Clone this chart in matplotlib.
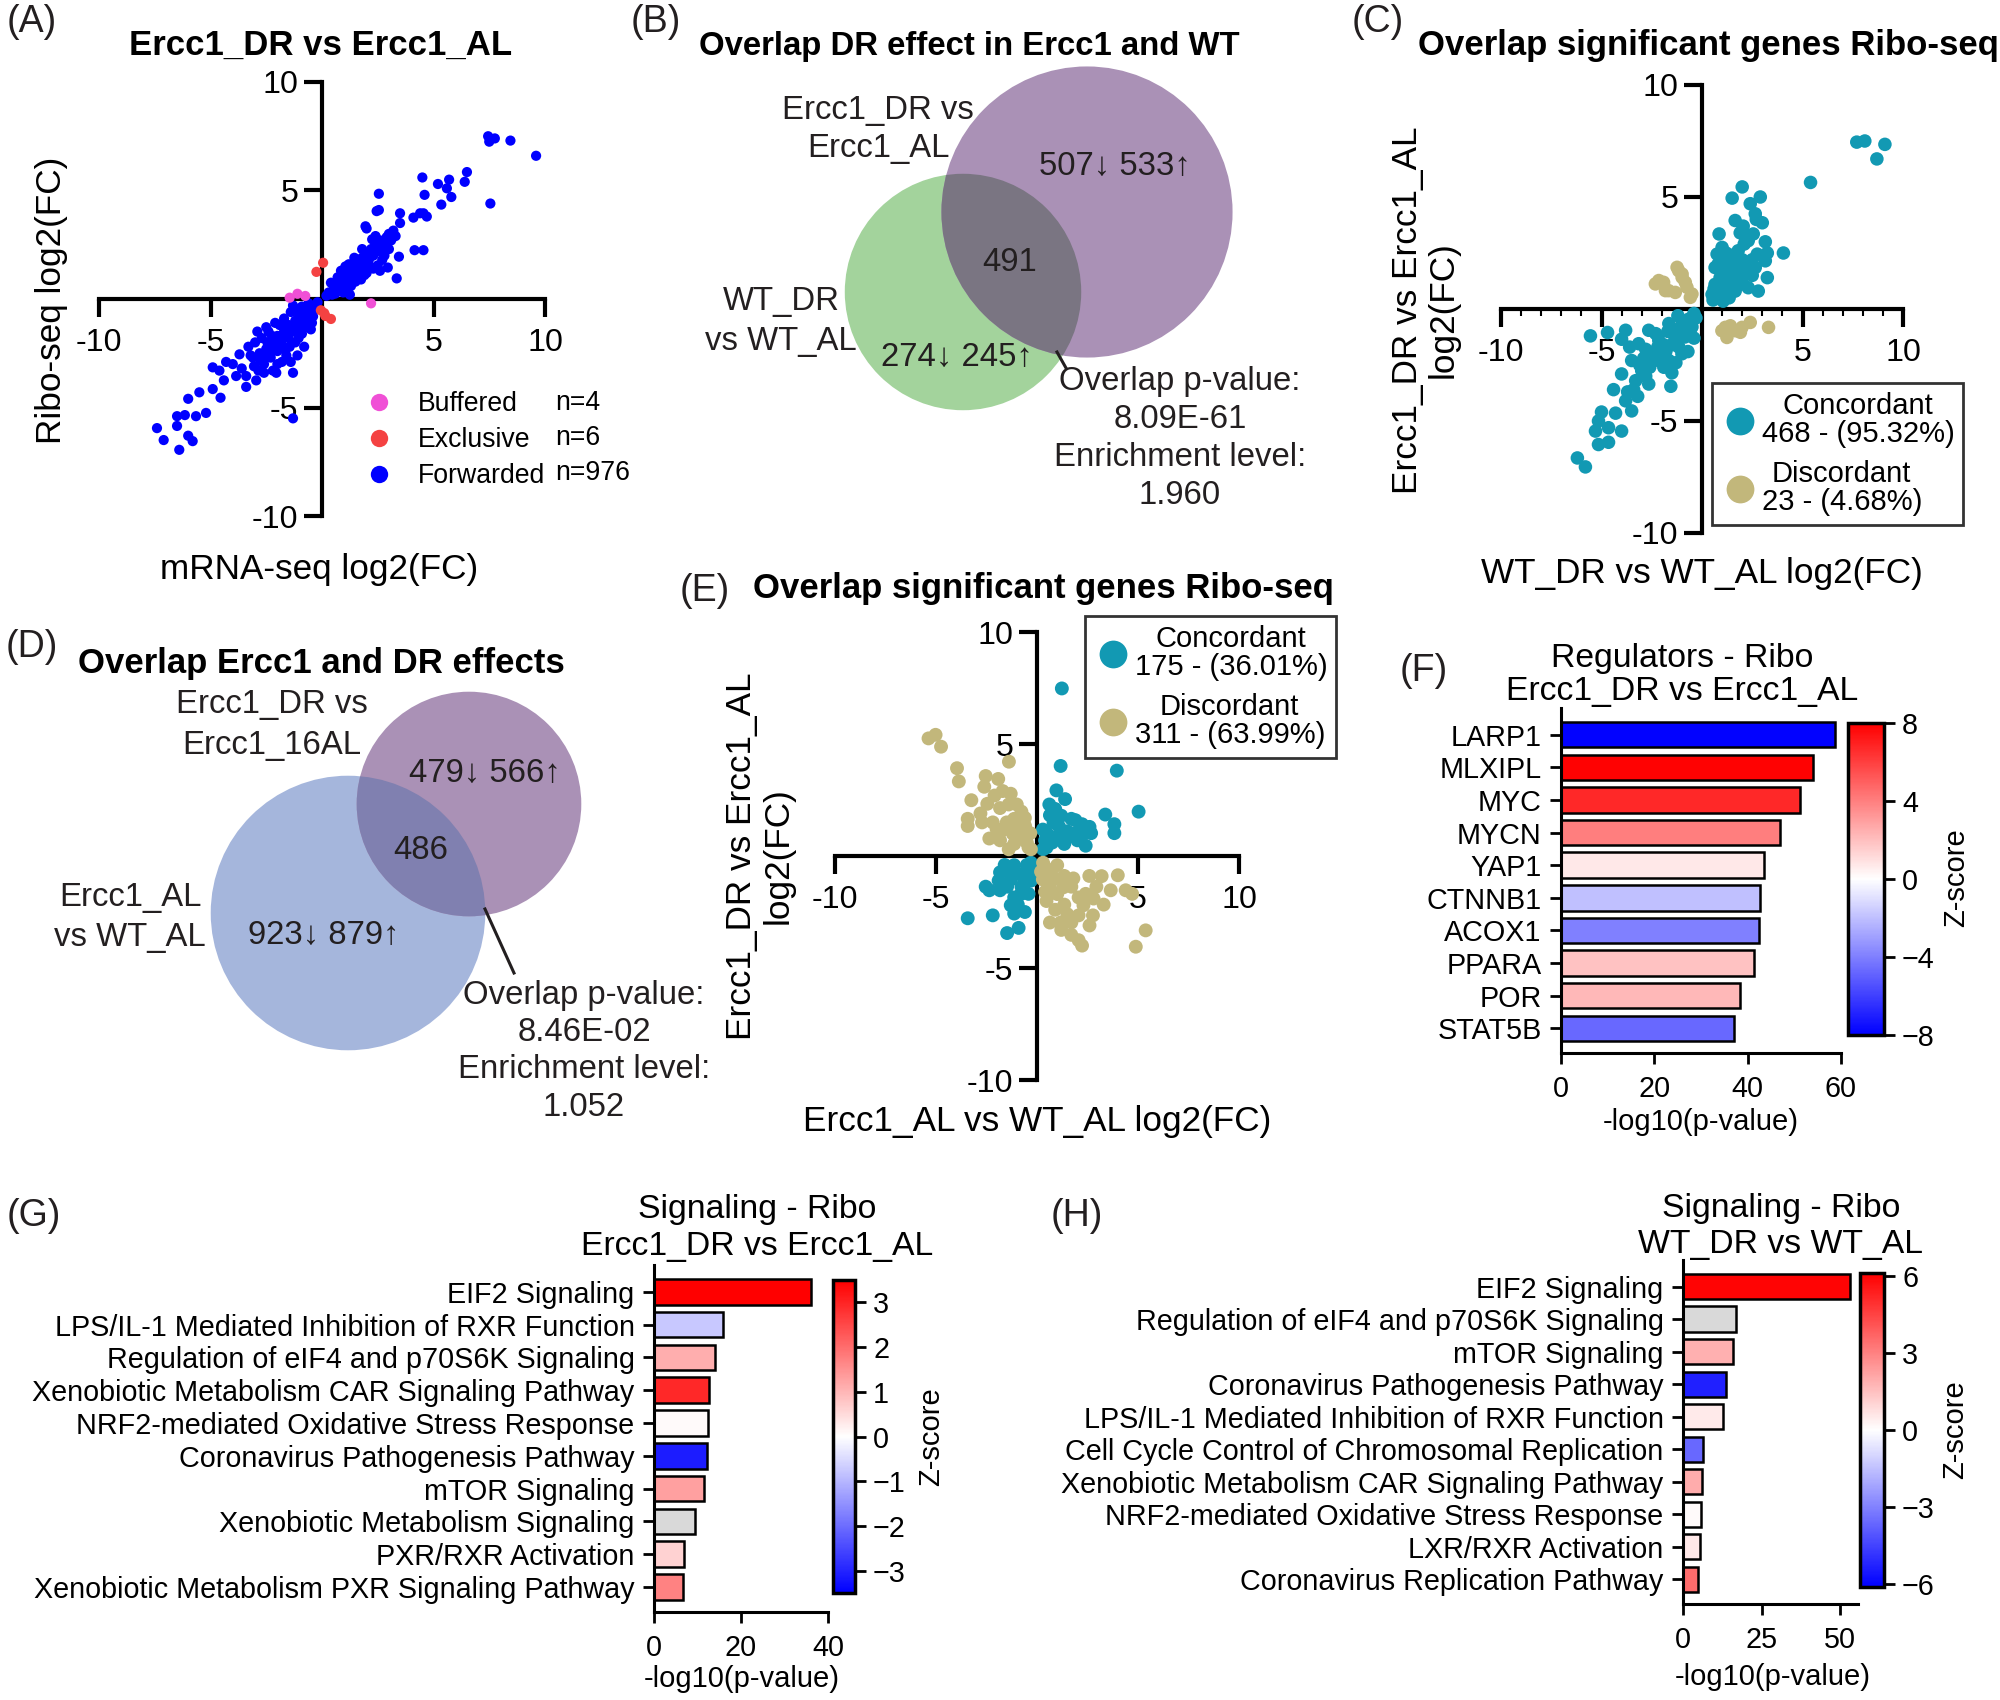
import matplotlib.pyplot as plt
import numpy as np
from matplotlib.lines import Line2D
from matplotlib.patches import Circle
from matplotlib.colors import Normalize
from matplotlib.cm import ScalarMappable
from matplotlib.ticker import MultipleLocator

plt.rcParams['font.family'] = ['Liberation Sans', 'DejaVu Sans']
plt.rcParams['axes.unicode_minus'] = False

# ---------------- data ----------------
# (A) Ribo-seq vs mRNA-seq log2(FC), Ercc1_DR vs Ercc1_AL
a_forwarded = [
    (7.5, 7.25), (7.75, 7.4), (8.45, 7.3), (7.45, 7.5), (9.6, 6.6), (7.55, 4.4),
    (4.5, 5.6), (5.7, 5.5), (5.2, 5.3), (5.6, 5.1), (5.8, 4.7), (5.35, 4.35),
    (6.4, 5.4), (6.5, 5.85), (4.6, 4.8), (2.55, 4.85), (2.45, 4.05), (2.55, 4.1),
    (3.5, 3.95), (4.1, 3.75), (4.7, 3.8), (4.4, 3.95), (4.55, 3.95), (1.95, 3.35),
    (2.0, 3.25), (3.5, 3.5), (4.15, 2.25), (4.55, 2.25), (3.35, 0.95), (3.45, 1.95),
    (2.95, 1.45), (3.2, 3.15), (3.0, 3.0),
    (0.3, 0.3), (0.5, 0.4), (0.6, 0.7), (0.8, 0.55), (0.9, 0.9), (1.0, 1.1),
    (1.1, 0.8), (1.2, 1.3), (1.3, 1.0), (1.4, 1.5), (1.5, 1.2), (1.6, 1.7),
    (1.7, 1.4), (1.8, 1.9), (1.9, 1.6), (2.0, 2.1), (2.1, 1.8), (2.2, 2.3),
    (2.3, 2.0), (2.4, 2.5), (2.5, 2.2), (2.6, 2.7), (2.7, 2.4), (2.8, 2.6),
    (2.9, 2.85), (3.1, 2.7), (1.0, 0.5), (1.5, 0.8), (2.0, 1.2), (2.5, 1.55),
    (0.7, 1.0), (1.2, 1.6), (1.8, 2.3), (2.25, 2.75), (0.4, 0.75), (1.6, 1.0),
    (2.8, 2.0), (2.7, 1.8), (1.3, 0.6), (0.6, 0.25), (2.3, 1.4), (1.9, 1.1),
    (1.45, 1.9), (2.4, 2.9),
    (0.2, 0.15), (0.45, 0.2), (0.7, 0.4), (0.95, 0.3), (1.15, 0.45), (0.55, 0.55),
    (0.85, 1.3), (1.05, 1.5), (1.35, 1.2), (1.55, 1.45), (1.75, 1.65), (1.95, 1.85),
    (2.15, 2.05), (2.35, 2.25), (2.55, 2.45), (2.75, 2.2), (2.15, 1.5), (1.75, 0.9),
    (1.25, 0.2), (2.6, 1.3), (3.0, 2.3), (3.3, 2.9),
    (-7.4, -5.95), (-7.1, -6.5), (-6.4, -6.95), (-6.5, -5.85), (-6.15, -5.35),
    (-6.5, -5.4), (-6.0, -6.3), (-5.8, -6.55), (-5.65, -5.4), (-5.2, -5.25),
    (-6.0, -4.6), (-5.5, -4.3), (-4.9, -4.15), (-4.55, -4.55), (-4.9, -3.15),
    (-4.3, -2.9), (-4.4, -3.75), (-3.85, -3.55), (-3.4, -4.05), (-2.95, -3.75),
    (-3.4, -3.55), (-2.05, -3.4), (-1.3, -3.4), (-1.3, -5.5), (-3.7, -2.55),
    (-3.1, -2.7), (-4.0, -3.0), (-4.6, -3.3), (-3.6, -3.2),
    (-0.3, -0.3), (-0.5, -0.6), (-0.7, -0.45), (-0.8, -0.9), (-1.0, -0.7),
    (-1.0, -1.2), (-1.2, -1.0), (-1.3, -1.5), (-1.5, -1.2), (-1.5, -1.8),
    (-1.7, -1.5), (-1.8, -2.1), (-2.0, -1.7), (-2.0, -2.4), (-2.2, -2.0),
    (-2.3, -2.7), (-2.5, -2.3), (-2.6, -3.0), (-2.8, -2.5), (-1.2, -2.0),
    (-0.9, -1.6), (-0.6, -1.0), (-1.6, -2.6), (-2.0, -3.0), (-0.4, -0.8),
    (-1.1, -0.6), (-1.9, -1.2), (-2.7, -1.8), (-2.9, -1.5), (-3.3, -2.2),
    (-1.4, -2.9), (-0.8, -2.2), (-2.4, -1.5), (-1.7, -0.9), (-0.6, -0.2),
    (-0.9, -0.35), (-1.4, -0.6), (-2.1, -1.1), (-2.5, -1.3), (-3.0, -2.0),
    (-1.1, -2.6), (-1.8, -2.9), (-2.2, -3.3), (-0.5, -1.4), (-1.3, -0.3),
    (-2.6, -3.4),
    (-0.2, -0.15), (-0.35, -0.5), (-0.55, -0.35), (-0.75, -0.7), (-0.95, -0.95),
    (-1.15, -1.35), (-1.35, -1.25), (-1.55, -1.55), (-1.75, -1.8), (-1.95, -2.0),
    (-2.15, -2.3), (-2.35, -2.45), (-2.55, -2.7), (-2.75, -2.85), (-1.05, -1.8),
    (-1.45, -2.2), (-1.65, -2.35), (-2.45, -2.0), (-2.25, -1.7), (-0.75, -1.3),
    (-1.25, -0.45), (-0.45, -1.1), (-3.05, -3.1), (-2.85, -3.3), (-3.2, -2.6),
]
a_buffered = [(-1.45, 0.06), (-1.1, 0.24), (-0.75, 0.14), (2.2, -0.2)]
a_exclusive = [(0.05, 1.67), (-0.25, 1.25), (-0.05, -0.52), (0.15, -0.78),
               (0.4, -0.92), (0.1, -0.65)]
a_counts = ['n=4', 'n=6', 'n=976']

# (C) Ercc1_DR vs Ercc1_AL against WT_DR vs WT_AL
c_concordant = [
    (7.7, 7.45), (8.1, 7.5), (9.1, 7.35), (8.7, 6.7), (5.4, 5.65), (4.05, 2.5),
    (2.0, 5.45), (1.5, 4.95), (2.9, 5.0), (2.4, 4.7), (2.65, 4.25), (1.65, 3.95),
    (3.0, 3.85), (2.05, 3.7), (0.85, 3.35), (2.3, 3.05), (3.15, 3.0), (1.0, 2.75),
    (3.25, 2.5), (0.75, 2.45), (1.65, 2.15), (2.3, 2.0), (3.15, 2.15), (2.65, 1.85),
    (3.25, 1.4), (1.0, 1.55), (0.65, 1.1), (1.4, 1.25), (2.0, 1.4), (2.8, 0.8),
    (0.85, 0.65), (0.5, 0.65), (1.65, 0.8), (2.3, 0.95), (1.15, 2.15), (1.8, 2.6),
    (1.35, 0.5), (0.65, 1.85), (2.55, 3.35), (2.75, 2.45), (1.3, 1.8), (0.9, 1.0),
    (1.9, 1.1), (2.5, 1.5), (1.2, 0.95), (0.55, 0.4), (2.1, 3.3), (2.7, 4.0),
    (0.6, 0.9), (0.9, 1.4), (1.1, 1.7), (1.5, 1.5), (1.7, 1.8), (1.5, 2.4),
    (2.0, 2.2), (2.2, 1.7), (1.7, 1.3), (0.8, 2.0), (1.2, 2.5), (2.1, 2.9),
    (1.9, 3.4), (2.5, 2.2), (0.7, 0.5), (1.05, 0.35),
    (-5.55, -1.2), (-4.7, -1.05), (-3.8, -0.95), (-4.0, -1.35), (-1.0, -0.5),
    (-0.65, -0.45), (-1.65, -0.65), (-2.65, -0.95), (-3.15, -1.55), (-2.15, -1.4),
    (-1.35, -1.25), (-2.5, -2.0), (-3.5, -2.3), (-4.0, -2.9), (-3.0, -2.75),
    (-1.65, -2.3), (-1.5, -2.85), (-1.55, -3.45), (-3.4, -3.6), (-2.65, -3.35),
    (-3.8, -4.1), (-3.5, -4.55), (-4.3, -4.65), (-4.0, -5.45), (-5.15, -5.0),
    (-5.3, -5.45), (-4.65, -5.3), (-5.15, -6.05), (-4.65, -5.95), (-6.2, -6.65),
    (-5.8, -7.05), (-2.0, -2.0), (-0.85, -1.25), (-0.5, -0.8), (-2.3, -1.1),
    (-1.15, -1.7), (-3.3, -3.2), (-2.15, -2.3), (-0.3, -0.4), (-1.9, -1.6),
    (-2.8, -1.8), (-1.2, -0.3), (-0.6, -1.0), (-1.7, -1.0), (-2.6, -2.6),
    (-3.6, -1.7), (-4.4, -3.6), (-5.0, -4.6), (-0.4, -1.3), (-0.7, -1.9),
    (-0.4, -0.2), (-0.8, -0.7), (-1.2, -0.9), (-1.5, -1.6), (-1.8, -1.9),
    (-2.2, -1.7), (-2.4, -2.3), (-1.9, -2.6), (-2.9, -2.2), (-3.1, -2.5),
    (-2.8, -3.0), (-3.7, -3.7), (-3.2, -3.9), (-1.0, -2.0), (-1.3, -2.4),
    (-0.9, -0.9),
]
c_discordant = [
    (-2.15, 1.27), (-2.32, 1.12), (-1.82, 0.82), (-1.33, 0.74), (-1.16, 1.71),
    (-0.99, 1.41), (-0.75, 0.97), (-0.58, 0.52), (-1.24, 1.86), (-1.66, 0.82),
    (-0.83, 1.19), (1.16, -0.82), (1.24, -1.27), (1.66, -0.97), (1.99, -0.82),
    (2.4, -0.6), (3.31, -0.82), (1.91, -1.04), (0.99, -0.97), (-1.91, 1.19),
    (-0.99, 1.56), (-0.5, 0.67), (1.41, -0.75),
]
c_labels = ['Concordant\n468 - (95.32%)', 'Discordant\n23 - (4.68%)']

# (E) Ercc1_DR vs Ercc1_AL against Ercc1_AL vs WT_AL
e_concordant = [
    (1.23, 7.48), (1.17, 4.02), (3.95, 3.81), (5.03, 1.98), (0.96, 2.93),
    (1.39, 2.54), (0.61, 2.3), (3.38, 1.85), (3.83, 1.42), (3.83, 1.02),
    (2.23, 1.42), (2.68, 1.02), (2.41, 0.46), (1.7, 1.66), (0.64, 1.82),
    (0.29, 1.18), (1.0, 0.86), (0.47, 0.38), (1.35, 0.54), (1.88, 1.02),
    (0.82, 1.5), (0.4, 0.7), (1.5, 1.1), (0.9, 2.1), (2.0, 0.7), (0.3, 0.3),
    (0.5, 1.0), (1.2, 1.8), (1.6, 0.9), (2.2, 0.9), (2.6, 1.3), (0.75, 0.6),
    (1.9, 1.6), (1.1, 1.3),
    (-3.43, -2.78), (-2.19, -2.65), (-2.36, -1.53), (-1.48, -3.44), (-0.91, -3.21),
    (-1.13, -2.57), (-1.83, -0.73), (-1.13, -0.41), (-0.59, -0.73), (-0.77, -1.37),
    (-1.48, -1.37), (-0.42, -1.69), (-1.13, -1.85), (-1.83, -1.53), (-0.24, -0.57),
    (-0.95, -2.17), (-2.54, -1.37), (-1.3, -1.05), (-0.3, -0.3), (-0.6, -1.1),
    (-1.6, -0.4), (-0.3, -1.1),
    (-0.5, -0.4), (-1.0, -0.8), (-1.4, -0.7), (-0.8, -1.7), (-1.3, -2.2),
    (-0.6, -2.5), (-1.9, -1.1), (-0.2, -0.9),
]
e_discordant = [
    (-5.37, 5.25), (-5.02, 5.41), (-4.75, 4.88), (-1.39, 4.21), (-3.96, 3.92),
    (-3.87, 3.33), (-3.25, 2.49), (-2.46, 2.33), (-2.54, 3.57), (-1.92, 3.44),
    (-2.61, 3.09), (-1.3, 2.78), (-3.43, 1.66), (-3.43, 1.34), (-2.72, 1.5),
    (-2.19, 1.5), (-0.77, 1.98), (-0.59, 1.34), (-1.13, 1.66), (-1.83, 2.14),
    (-2.36, 0.78), (-1.83, 0.7), (-1.13, 0.54), (-0.42, 0.38), (-0.77, 0.86),
    (-1.66, 1.18), (-0.33, 1.02), (-1.4, 2.3), (-2.1, 2.7), (-0.3, 0.3),
    (-0.9, 1.3), (-1.5, 1.5), (-2.0, 1.2), (-1.2, 1.0), (-0.5, 0.6),
    (-1.0, 2.3), (-1.7, 2.9), (-2.8, 1.9), (-0.6, 1.7), (-1.4, 0.3),
    (4.0, -0.86), (4.39, -1.53), (4.71, -1.69), (5.38, -3.32), (4.89, -4.05),
    (2.23, -4.0), (2.06, -3.76), (1.7, -3.52), (0.64, -2.97), (1.17, -2.97),
    (1.7, -2.97), (2.77, -2.65), (3.3, -2.17), (3.65, -1.53), (2.59, -0.89),
    (2.06, -1.85), (0.64, -0.73), (1.35, -0.89), (0.64, -1.37), (0.47, -2.01),
    (1.35, -2.17), (2.06, -2.65), (1.0, -0.41), (0.29, -1.05), (1.7, -1.37),
    (2.41, -1.69), (2.94, -1.37), (0.3, -0.3), (1.0, -1.7), (3.2, -0.9),
    (0.4, -0.5), (0.9, -1.0), (1.3, -1.4), (1.8, -1.0), (0.9, -2.4),
    (1.5, -2.6), (2.3, -2.2), (2.8, -1.9), (0.4, -1.6), (1.2, -3.3),
    (2.6, -3.1), (0.2, -0.7),
]
e_labels = ['Concordant\n175 - (36.01%)', 'Discordant\n311 - (63.99%)']

# (B) and (D) Venn counts
b_purple = [507, 533]
b_green = [274, 245]
b_both = 491
d_purple = [479, 566]
d_blue = [923, 879]
d_both = 486

# (F) upstream regulators
f_names = ['LARP1', 'MLXIPL', 'MYC', 'MYCN', 'YAP1', 'CTNNB1', 'ACOX1',
           'PPARA', 'POR', 'STAT5B']
f_logp = [58.7, 54.0, 51.2, 46.9, 43.5, 42.6, 42.4, 41.4, 38.3, 37.1]
f_z = [-7.9, 7.9, 6.7, 4.0, 0.7, -2.0, -4.0, 1.9, 2.2, -4.7]

# (G) signaling, Ercc1_DR vs Ercc1_AL
g_names = ['EIF2 Signaling', 'LPS/IL-1 Mediated Inhibition of RXR Function',
           'Regulation of eIF4 and p70S6K Signaling',
           'Xenobiotic Metabolism CAR Signaling Pathway',
           'NRF2-mediated Oxidative Stress Response',
           'Coronavirus Pathogenesis Pathway', 'mTOR Signaling',
           'Xenobiotic Metabolism Signaling', 'PXR/RXR Activation',
           'Xenobiotic Metabolism PXR Signaling Pathway']
g_logp = [36.1, 15.8, 14.1, 12.7, 12.5, 12.2, 11.5, 9.4, 6.9, 6.6]
g_z = [3.5, -0.75, 1.1, 2.95, 0.07, -3.1, 1.3, np.nan, 0.62, 1.7]

# (H) signaling, WT_DR vs WT_AL
h_names = ['EIF2 Signaling', 'Regulation of eIF4 and p70S6K Signaling',
           'mTOR Signaling', 'Coronavirus Pathogenesis Pathway',
           'LPS/IL-1 Mediated Inhibition of RXR Function',
           'Cell Cycle Control of Chromosomal Replication',
           'Xenobiotic Metabolism CAR Signaling Pathway',
           'NRF2-mediated Oxidative Stress Response', 'LXR/RXR Activation',
           'Coronavirus Replication Pathway']
h_logp = [53.0, 16.9, 15.9, 13.6, 12.7, 6.4, 6.2, 5.8, 5.4, 4.8]
h_z = [6.0, np.nan, 1.9, -5.3, 0.5, -3.6, 2.0, 0.1, 0.55, 3.5]

# ---------------- layout helpers (pixel boxes on a 2000x1700 canvas) ----------------
W, H = 2000, 1700
INK = '#231f20'
TEAL = '#1299b3'
TAN = '#c2b77b'
cmap = plt.get_cmap('bwr')


def box(x0, y0, x1, y1):
    return [x0 / W, 1 - y1 / H, (x1 - x0) / W, (y1 - y0) / H]


fig = plt.figure(figsize=(20, 17), dpi=100, facecolor='white')
cv = fig.add_axes([0, 0, 1, 1])
cv.set_xlim(0, W)
cv.set_ylim(H, 0)
cv.axis('off')


def quad(ax):
    ax.set_facecolor('none')
    ax.set_xlim(-10, 10)
    ax.set_ylim(-10, 10)
    for s in ['top', 'right']:
        ax.spines[s].set_visible(False)
    for s in ['left', 'bottom']:
        ax.spines[s].set_position(('data', 0))
        ax.spines[s].set_linewidth(3)
    ax.set_xticks([-10, -5, 5, 10])
    ax.set_yticks([-10, -5, 5, 10])
    ax.tick_params(length=13, width=3, labelsize=23.2)
    ax.tick_params(axis='x', pad=8)
    ax.tick_params(axis='y', pad=4)


def pts(ax, data, color, s):
    arr = np.array(data)
    return ax.scatter(arr[:, 0], arr[:, 1], s=s, c=color, edgecolors='none', zorder=3)


def panel_label(x, y, txt):
    cv.text(x, y, txt, fontsize=27, color=INK, ha='left', va='top')


def title(x, y, txt, bold=True, size=25):
    cv.text(x, y, txt, fontsize=size, fontweight='bold' if bold else 'normal',
            ha='center', va='baseline')


def qlegend(ax, labels, x0, y0):
    hs = [Line2D([], [], ls='', marker='o', ms=20, mfc=c, mec='none') for c in (TEAL, TAN)]
    leg = ax.legend(hs, labels, loc='upper left', bbox_to_anchor=(x0 / W, 1 - y0 / H),
                    bbox_transform=fig.transFigure, fontsize=21, frameon=True,
                    fancybox=False, edgecolor='black', borderpad=0.3,
                    labelspacing=0.42, handletextpad=0.1, handlelength=1.3,
                    borderaxespad=0)
    leg.get_frame().set_linewidth(2)
    for t in leg.get_texts():
        t.set_multialignment('center')
        t.set_linespacing(1.0)


# ---------------- (A) ----------------
panel_label(7, 4, '(A)')
title(321, 55, 'Ercc1_DR vs Ercc1_AL')
axA = fig.add_axes(box(99, 82, 545, 516))
quad(axA)
pts(axA, a_forwarded, '#0000ff', 54)
pts(axA, a_buffered, '#f050d6', 54)
pts(axA, a_exclusive, '#f44242', 54)
hA = [Line2D([], [], ls='', marker='o', ms=12.5, mfc=c, mec='none')
      for c in ('#f050d6', '#f44242', '#0000ff')]
axA.legend(hA, ['Buffered', 'Exclusive', 'Forwarded'], loc='upper left',
           bbox_to_anchor=(366 / W, 1 - 391 / H), bbox_transform=fig.transFigure,
           frameon=False, fontsize=19.2, handlelength=1.0, handletextpad=0.95,
           labelspacing=0.38, borderpad=0, borderaxespad=0)
for i, t in enumerate(a_counts):
    cv.text(555, 403 + 35 * i, t, fontsize=19.2, va='center', ha='left')
cv.text(319, 570, 'mRNA-seq log2(FC)', fontsize=25.3, ha='center', va='center')
cv.text(51, 300, 'Ribo-seq log2(FC)', fontsize=25.3, ha='center', va='center', rotation=90)


# ---------------- Venn helper ----------------
def venn(c1, n1, col1, c2, n2, col2, col_ov, k):
    p1 = Circle(c1, k * np.sqrt(n1), fc=col1, ec='none')
    p2 = Circle(c2, k * np.sqrt(n2), fc=col2, ec='none')
    cv.add_patch(p1)
    cv.add_patch(p2)
    ov = Circle(c1, k * np.sqrt(n1), fc=col_ov, ec='none')
    cv.add_patch(ov)
    ov.set_clip_path(p2)


def vt(x, y, txt, size=23.7):
    cv.text(x, y, txt, fontsize=size, ha='center', va='center', color=INK)


# ---------------- (B) ----------------
panel_label(631, 4, '(B)')
title(969, 55, 'Overlap DR effect in Ercc1 and WT', size=23.7)
venn((963, 292), sum(b_green) + b_both, '#a3d39c',
     (1087, 212), sum(b_purple) + b_both, '#aa91b6', '#7a7582', 3.72)
vt(878, 110, 'Ercc1_DR vs')
vt(878, 148, 'Ercc1_AL')
vt(1115, 166, f'{b_purple[0]}\u2193 {b_purple[1]}\u2191')
vt(1010, 262, str(b_both))
vt(781, 301, 'WT_DR')
vt(781, 341, 'vs WT_AL')
vt(957, 357, f'{b_green[0]}\u2193 {b_green[1]}\u2191')
cv.plot([1057, 1066], [352, 368], color=INK, lw=2.2)
for i, t in enumerate(['Overlap p-value:', '8.09E-61', 'Enrichment level:', '1.960']):
    vt(1180, 381 + 38 * i, t)

# ---------------- (C) ----------------
panel_label(1352, 4, '(C)')
title(1708, 55, 'Overlap significant genes Ribo-seq')
axC = fig.add_axes(box(1501, 85, 1903, 533))
quad(axC)
axC.xaxis.set_minor_locator(MultipleLocator(1))
axC.tick_params(axis='x', which='minor', length=5, width=1.5)
pts(axC, c_concordant, TEAL, 95)
pts(axC, c_discordant, TAN, 95)
qlegend(axC, c_labels, 1712, 383)
cv.text(1702, 574, 'WT_DR vs WT_AL log2(FC)', fontsize=25.3, ha='center', va='center')
cv.text(1425, 310, 'Ercc1_DR vs Ercc1_AL\nlog2(FC)', fontsize=25.3, ha='center',
        va='center', rotation=90, multialignment='center', linespacing=1.1)

# ---------------- (D) ----------------
panel_label(6, 629, '(D)')
title(321, 673, 'Overlap Ercc1 and DR effects')
venn((348, 913), sum(d_blue) + d_both, '#a5b6dc',
     (469, 804), sum(d_purple) + d_both, '#aa91b6', '#8080b0', 2.87)
vt(272, 704, 'Ercc1_DR vs')
vt(272, 745, 'Ercc1_16AL')
vt(485, 773, f'{d_purple[0]}\u2193 {d_purple[1]}\u2191')
vt(421, 850, str(d_both))
vt(130, 897, 'Ercc1_AL')
vt(130, 937, 'vs WT_AL')
vt(324, 935, f'{d_blue[0]}\u2193 {d_blue[1]}\u2191')
cv.plot([485, 514], [909, 973], color=INK, lw=2.2)
for i, t in enumerate(['Overlap p-value:', '8.46E-02', 'Enrichment level:', '1.052']):
    vt(584, 995 + 37.5 * i, t)

# ---------------- (E) ----------------
panel_label(680, 573, '(E)')
title(1043, 598, 'Overlap significant genes Ribo-seq')
axE = fig.add_axes(box(835, 632, 1239, 1080))
quad(axE)
pts(axE, e_concordant, TEAL, 100)
pts(axE, e_discordant, TAN, 100)
qlegend(axE, e_labels, 1085, 616)
cv.text(1037, 1122, 'Ercc1_AL vs WT_AL log2(FC)', fontsize=25.3, ha='center', va='center')
cv.text(760, 856, 'Ercc1_DR vs Ercc1_AL\nlog2(FC)', fontsize=25.3, ha='center',
        va='center', rotation=90, multialignment='center', linespacing=1.15)


# ---------------- bar helper ----------------
def bars(bx, names, vals, zs, vlim, xmax, xticks, cbx, cticks, zx, xl):
    norm = Normalize(-vlim, vlim)
    ax = fig.add_axes(box(*bx))
    ax.set_facecolor('none')
    cols = ['#d9d9d9' if np.isnan(z) else cmap(norm(z)) for z in zs]
    y = np.arange(len(names))
    ax.barh(y, vals, height=0.78, color=cols, edgecolor='black', linewidth=1.8)
    ax.set_yticks(y, names)
    ax.set_ylim(len(names) - 1 + 0.76, -0.82)
    ax.set_xlim(0, xmax)
    ax.set_xticks(xticks)
    for s in ['top', 'right']:
        ax.spines[s].set_visible(False)
    for s in ['left', 'bottom']:
        ax.spines[s].set_linewidth(2.2)
    ax.tick_params(length=8, width=2, labelsize=20.7)
    ax.tick_params(axis='y', pad=6)
    ax.tick_params(axis='x', pad=8)
    cax = fig.add_axes(box(*cbx))
    cb = fig.colorbar(ScalarMappable(norm, cmap), cax=cax)
    cb.outline.set_linewidth(2.5)
    cb.set_ticks(cticks, labels=[str(t).replace('-', '\u2212') for t in cticks])
    cax.tick_params(length=8, width=2, labelsize=20.7, pad=5)
    cv.text(zx[0], zx[1], 'Z-score', fontsize=21, rotation=90, ha='center', va='center')
    cv.text(xl[0], xl[1], '-log10(p-value)', fontsize=21, ha='center', va='center')
    return ax


# ---------------- (F) ----------------
panel_label(1400, 653, '(F)')
title(1682, 667, 'Regulators - Ribo', bold=False, size=24.3)
title(1682, 700, 'Ercc1_DR vs Ercc1_AL', bold=False, size=24.3)
bars((1561, 708, 1841, 1053), f_names, f_logp, f_z, 8, 60, [0, 20, 40, 60],
     (1848, 723, 1884, 1035), [-8, -4, 0, 4, 8], (1956, 878), (1701, 1122))

# ---------------- (G) ----------------
panel_label(7, 1198, '(G)')
title(757, 1218, 'Signaling - Ribo', bold=False, size=24.3)
title(757, 1255, 'Ercc1_DR vs Ercc1_AL', bold=False, size=24.3)
bars((654, 1265, 828, 1612), g_names, g_logp, g_z, 3.5, 40, [0, 20, 40],
     (833, 1280, 855, 1593), [-3, -2, -1, 0, 1, 2, 3], (931, 1437), (742, 1679))

# ---------------- (H) ----------------
panel_label(1051, 1198, '(H)')
title(1781, 1217, 'Signaling - Ribo', bold=False, size=24.3)
title(1781, 1253, 'WT_DR vs WT_AL', bold=False, size=24.3)
bars((1683, 1260, 1858, 1604), h_names, h_logp, h_z, 6.1, 55.7, [0, 25, 50],
     (1860, 1273, 1884, 1587), [-6, -3, 0, 3, 6], (1955, 1430), (1773, 1677))

fig.savefig('out.png', dpi=100, facecolor='white')
